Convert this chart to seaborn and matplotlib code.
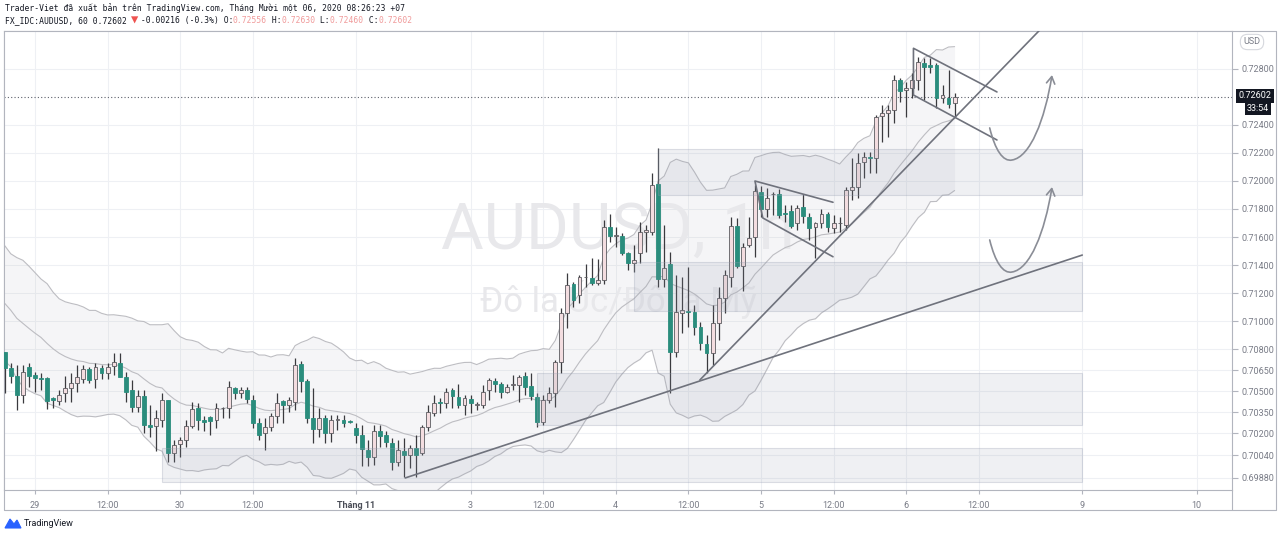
import numpy as np
import pandas as pd
import matplotlib
matplotlib.use("Agg")
import matplotlib.pyplot as plt
import seaborn as sns
from matplotlib.patches import Rectangle, FancyArrowPatch, Polygon
from matplotlib.path import Path

# ---- candles: AUDUSD 1h, 28 Oct 19:00 -> 6 Nov 08:00 (+07) ----
opens = [
    .70782, .70663, .70608, .70472, .70670, .70615, .70591, .70591, .70448, .70432,
    .70484, .70520, .70560, .70584, .70656, .70584, .70663, .70627, .70679, .70703,
    .70603, .70508, .70389, .70465, .70258, .70251, .70294, .70437, .70056, .70122,
    .70151, .70251, .70377, .70294, .70313, .70294, .70377, .70377, .70520, .70489,
    .70508, .70437, .70270, .70199, .70241, .70322, .70429, .70401, .70425, .70694,
    .70568, .70306, .70227, .70306, .70199, .70294, .70294, .70282, .70234, .70187,
    .70080, .70027, .70211, .70187, .70132, .69996, .70068, .70044, .70091, .70056,
    .70246, .70341, .70425, .70413, .70508, .70460, .70401, .70441, .70401, .70401,
    .70508, .70574, .70551, .70496, .70544, .70544, .70608, .70536, .70460, .70282,
    .70436, .70484, .70710, .71055, .71265, .71186, .71312, .71305, .71274, .71293,
    .71669, .71608, .71608, .71489, .71417, .71484, .71638, .71638, .71979, .71298,
    .71408, .70782, .71060, .71067, .71067, .70960, .70836, .70770, .70984, .71163,
    .71317, .71679, .71393, .71543, .71603, .71924, .71798, .71905, .71907, .71769,
    .71788, .71698, .71812, .71743, .71669, .71703, .71765, .71667, .71698, .71686,
    .71936, .71960, .72138, .72174, .72162, .72466, .72483, .72507, .72721, .72650,
    .72666, .72721, .72840, .72828, .72828, .72595, .72590, .72556]
highs = [
    .70782, .70698, .70686, .70686, .70703, .70639, .70627, .70603, .70460, .70508,
    .70608, .70627, .70686, .70686, .70675, .70698, .70686, .70698, .70770, .70775,
    .70639, .70579, .70508, .70508, .70401, .70365, .70484, .70437, .70151, .70175,
    .70294, .70425, .70413, .70318, .70318, .70413, .70389, .70568, .70532, .70532,
    .70532, .70472, .70306, .70306, .70341, .70484, .70437, .70460, .70734, .70717,
    .70584, .70520, .70377, .70330, .70330, .70330, .70330, .70294, .70270, .70258,
    .70151, .70258, .70258, .70211, .70163, .70151, .70163, .70115, .70187, .70258,
    .70401, .70472, .70448, .70520, .70520, .70551, .70472, .70472, .70425, .70544,
    .70591, .70591, .70567, .70551, .70615, .70615, .70639, .70627, .70484, .70472,
    .70532, .70722, .71091, .71341, .71281, .71329, .71408, .71448, .71441, .71722,
    .71765, .71674, .71627, .71496, .71543, .71710, .71686, .72060, .72233, .71686,
    .71496, .71329, .71317, .71389, .71115, .70996, .70901, .71115, .71246, .71365,
    .71746, .71734, .71555, .71746, .71972, .71965, .71948, .71924, .71941, .71829,
    .71829, .71829, .71907, .71769, .71710, .71798, .71781, .71757, .71745, .71960,
    .72162, .72197, .72205, .72205, .72471, .72543, .72543, .72757, .72733, .72709,
    .72769, .72888, .72881, .72876, .72840, .72685, .72792, .72630]
lows = [
    .70484, .70556, .70365, .70413, .70532, .70496, .70508, .70370, .70377, .70401,
    .70425, .70425, .70496, .70556, .70556, .70520, .70584, .70584, .70615, .70603,
    .70425, .70353, .70353, .70199, .70175, .70068, .70246, .69996, .69996, .70032,
    .70103, .70234, .70222, .70211, .70187, .70234, .70306, .70306, .70441, .70448,
    .70413, .70234, .70151, .70080, .70211, .70270, .70270, .70353, .70365, .70496,
    .70270, .70127, .70175, .70127, .70139, .70222, .70246, .70275, .70127, .69961,
    .69961, .69973, .70103, .70103, .69937, .69961, .69889, .69949, .69889, .70044,
    .70211, .70318, .70341, .70377, .70377, .70377, .70329, .70341, .70365, .70377,
    .70436, .70496, .70448, .70484, .70508, .70425, .70472, .70436, .70246, .70258,
    .70413, .70389, .70627, .70948, .71103, .71127, .71246, .71258, .71258, .71265,
    .71567, .71531, .71472, .71365, .71353, .71412, .71496, .71615, .71246, .71246,
    .70484, .70746, .70913, .70960, .70901, .70794, .70627, .70687, .70865, .71055,
    .71246, .71377, .71217, .71531, .71460, .71741, .71746, .71757, .71734, .71710,
    .71662, .71650, .71703, .71579, .71448, .71662, .71638, .71626, .71638, .71650,
    .71864, .71876, .72019, .72055, .72055, .72281, .72317, .72412, .72566, .72459,
    .72590, .72650, .72578, .72769, .72519, .72555, .72519, .72460]
closes = [
    .70663, .70608, .70472, .70639, .70608, .70591, .70589, .70432, .70437, .70472,
    .70520, .70560, .70598, .70656, .70579, .70675, .70627, .70675, .70710, .70603,
    .70496, .70389, .70465, .70258, .70246, .70306, .70437, .70056, .70115, .70151,
    .70251, .70370, .70294, .70282, .70287, .70377, .70379, .70532, .70489, .70508,
    .70441, .70270, .70187, .70241, .70322, .70413, .70401, .70437, .70686, .70568,
    .70306, .70227, .70306, .70199, .70294, .70296, .70275, .70280, .70187, .70084,
    .70027, .70211, .70180, .70139, .69996, .70080, .70044, .70091, .70044, .70246,
    .70353, .70413, .70413, .70496, .70465, .70401, .70448, .70417, .70403, .70496,
    .70579, .70551, .70496, .70532, .70546, .70603, .70532, .70465, .70282, .70436,
    .70484, .70710, .71055, .71258, .71151, .71317, .71314, .71274, .71293, .71669,
    .71608, .71610, .71489, .71417, .71436, .71638, .71650, .71972, .71298, .71377,
    .70782, .71067, .71079, .71065, .70960, .70841, .70770, .70984, .71163, .71329,
    .71679, .71393, .71531, .71596, .71931, .71798, .71877, .71907, .71757, .71767,
    .71679, .71805, .71750, .71662, .71698, .71765, .71669, .71698, .71700, .71936,
    .71960, .72126, .72174, .72162, .72459, .72483, .72507, .72721, .72643, .72666,
    .72721, .72852, .72816, .72816, .72590, .72614, .72547, .72602]

# Keltner channel settings + state read at the left edge
kc_length = 20
kc_mult = 2.25
kc_mid_start = 0.71175
kc_range_start = 0.00171

price_ticks = [0.72800, 0.72400, 0.72200, 0.72000, 0.71800, 0.71600, 0.71400, 0.71200,
               0.71000, 0.70800, 0.70650, 0.70500, 0.70350, 0.70200, 0.70040, 0.69880]
time_tick_bars = [5, 17, 29, 41, 58, 77, 89, 101, 113, 125, 137, 149, 161, 178, 197]
time_tick_labels = ["29", "12:00", "30", "12:00", "Tháng 11", "3", "12:00", "4", "12:00",
                    "5", "12:00", "6", "12:00", "9", "10"]

# drawings (bar index, price)
zone_start = [108, 104, 88, 26]
zone_end = [178, 178, 178, 178]
zone_top = [0.72229, 0.71421, 0.70629, 0.70093]
zone_bottom = [0.71900, 0.71071, 0.70257, 0.69850]

trend_bars = [(66.2, 178.1), (114.9, 174.4)]
trend_prices = [(0.69879, 0.71471), (0.70579, 0.73226)]

flag_bars = [[136.9, 124.0, 125.3, 136.9], [164.0, 150.2, 150.2, 164.0]]
flag_prices = [[0.71848, 0.72000, 0.71736, 0.71459], [0.72636, 0.72948, 0.72614, 0.72293]]

arrow_bars = [162.8, 163.7, 165.0, 166.5, 169.5, 171.9, 173.1]
arrow_prices = [0.72379, 0.72221, 0.72136, 0.72150, 0.72171, 0.72436, 0.72757]
arrow_shift = [0.0, -0.0080]

last_price = 0.72602
countdown = "33:54"

# ---- derived ----
df = pd.DataFrame({"open": opens, "high": highs, "low": lows, "close": closes})
df["bar"] = np.arange(len(df))
prev_close = df["close"].shift(1).fillna(df["open"])
tr = np.maximum(df["high"] - df["low"],
                np.maximum((df["high"] - prev_close).abs(), (df["low"] - prev_close).abs()))
alpha = 2 / (kc_length + 1)
mid, rng = [], []
m, r = kc_mid_start, kc_range_start
for c, t in zip(df["close"], tr):
    m += alpha * (c - m)
    r += alpha * (t - r)
    mid.append(m)
    rng.append(r)
df["mid"] = mid
df["upper"] = df["mid"] + kc_mult * np.array(rng)
df["lower"] = df["mid"] - kc_mult * np.array(rng)

UP_FILL = "#f3dde0"
UP_EDGE = "#5b5b60"
DOWN = "#2a8d7d"
AXC = "#b2b5be"
TXT = "#787b86"

sns.set_theme(style="white")
plt.rcParams["font.family"] = ["Roboto", "DejaVu Sans"]

fig = plt.figure(figsize=(12.8, 5.36), dpi=100)
bg = fig.add_axes([0, 0, 1, 1])
bg.set_xlim(0, 1280)
bg.set_ylim(536, 0)
bg.axis("off")
ax = fig.add_axes([4 / 1280, 46 / 536, 1228 / 1280, 459 / 536])
ax.set_xlim(-0.12, 202.85)
ax.set_ylim(0.697929, 0.730714)

# grid
for p in price_ticks:
    ax.axhline(p, color="#eef0f4", lw=0.8, zorder=0)
for b in time_tick_bars:
    ax.axvline(b, color="#eef0f4", lw=0.8, zorder=0)

# keltner channel fill
ax.fill_between(df["bar"], df["lower"], df["upper"], color=(0.55, 0.55, 0.6, 0.08), lw=0, zorder=1)

# watermark (over the channel fill, under everything else)
ax.text(0.5, 0.565, "AUDUSD, 1h", transform=ax.transAxes, ha="center", va="center",
        fontsize=47, color="#e8e8eb", zorder=1.5, family=["Roboto", "DejaVu Sans"])
ax.text(0.5, 0.415, "Đô la Úc/Đô la Mỹ", transform=ax.transAxes, ha="center", va="center",
        fontsize=25, color="#e8e8eb", zorder=1.5, family=["Roboto", "DejaVu Sans"])

for col in ["upper", "mid", "lower"]:
    sns.lineplot(data=df, x="bar", y=col, ax=ax, color="#bdbdc2", lw=0.8, zorder=2)

# last price line
ax.axhline(last_price, color="#5d606b", lw=0.8, ls=(0, (1, 2)), zorder=2.5)

# candles
up = df["close"] >= df["open"]
body_lo = np.minimum(df["open"], df["close"])
body_h = np.maximum((df["close"] - df["open"]).abs(), 0.00003)
ax.vlines(df["bar"], df["low"], df["high"], color="#3a3a3e", lw=0.9, zorder=3)
ax.bar(df["bar"][up], body_h[up], bottom=body_lo[up], width=0.64,
       color=UP_FILL, edgecolor=UP_EDGE, linewidth=0.6, zorder=4)
ax.bar(df["bar"][~up], body_h[~up], bottom=body_lo[~up], width=0.64,
       color=DOWN, edgecolor=DOWN, linewidth=0.6, zorder=4)

# zones
for s, e, t, b in zip(zone_start, zone_end, zone_top, zone_bottom):
    ax.add_patch(Rectangle((s, b), e - s, t - b, facecolor=(0.58, 0.61, 0.69, 0.15),
                           edgecolor=(0.58, 0.61, 0.69, 0.3), lw=0.8, zorder=5))

# trend lines and flags
for xs, ys in zip(trend_bars, trend_prices):
    ax.plot(xs, ys, color="#6f727c", lw=1.2, zorder=6, solid_capstyle="round")
for xs, ys in zip(flag_bars, flag_prices):
    ax.plot(xs, ys, color="#6f727c", lw=1.2, zorder=6)

# curved arrows
codes = [Path.MOVETO, Path.CURVE4, Path.CURVE4, Path.CURVE4, Path.CURVE4, Path.CURVE4, Path.CURVE4]
for sh in arrow_shift:
    verts = [(b, p + sh) for b, p in zip(arrow_bars, arrow_prices)]
    arr = FancyArrowPatch(path=Path(verts, codes), arrowstyle="->,head_length=5,head_width=3",
                          color="#8a8d96", lw=1.2, zorder=6, transform=ax.transData)
    ax.add_patch(arr)

# axes styling
for sp in ax.spines.values():
    sp.set_color(AXC)
    sp.set_linewidth(0.8)
ax.yaxis.tick_right()
ax.set_yticks(price_ticks)
ax.set_yticklabels([f"{p:.5f}" for p in price_ticks])
ax.tick_params(axis="y", length=4, width=0.8, color=AXC, pad=3, labelsize=6.5, labelcolor=TXT, right=True)
ax.set_xticks(time_tick_bars)
ax.set_xticklabels(time_tick_labels)
ax.tick_params(axis="x", length=3, width=0.8, color=AXC, pad=5, labelsize=6.5, labelcolor=TXT, bottom=True)
for lab in ax.get_xticklabels():
    if lab.get_text() == "Tháng 11":
        lab.set_fontweight("bold")
        lab.set_color("#4a4d57")
ax.set_xlabel("")
ax.set_ylabel("")

# outer frame
bg.plot([4, 1276, 1276, 4, 4], [31, 31, 510, 510, 31], color=AXC, lw=0.8)
bg.plot([1232, 1232], [490, 510], color=AXC, lw=0.8)

# price labels on axis
bg.text(1255, 96, f"{last_price:.5f}", ha="center", va="center", fontsize=6.5, color="white",
        bbox=dict(boxstyle="square,pad=0.25", fc="#131722", ec="none"))
bg.text(1258, 108.5, countdown, ha="center", va="center", fontsize=6.5, color="white",
        bbox=dict(boxstyle="square,pad=0.2", fc="#131722", ec="none"))
bg.text(1252, 42, "USD", ha="center", va="center", fontsize=6.5, color=TXT,
        bbox=dict(boxstyle="round,pad=0.35,rounding_size=0.8", fc="white", ec="#d6d8de", lw=0.8))

# header
mono = ["DejaVu Sans Mono", "DejaVu Sans"]
fs = 5.8
cw = fs * 100 / 72 * 0.602
bg.text(5, 8.5, "Trader-Viet đã xuất bản trên TradingView.com, Tháng Mười một 06, 2020 08:26:23 +07",
        fontsize=fs, family=mono, color="#131722", va="center")
pieces = [("FX_IDC:AUDUSD, 60 0.72602 ", "#131722"), ("▼", "#ef5350"), (" -0.00216 (-0.3%) O:", "#131722"),
          ("0.72556", "#f09a9a"), (" H:", "#131722"), ("0.72630", "#f09a9a"), (" L:", "#131722"),
          ("0.72460", "#f09a9a"), (" C:", "#131722"), ("0.72602", "#f09a9a")]
n = 0
for s, c in pieces:
    size = fs * 1.5 if s == "▼" else fs
    bg.text(5 + n * cw, 20.5, s, fontsize=size, family=mono, color=c, va="center")
    n += len(s)
bg.text(10, 42.5, "Đô la Úc/Đô la Mỹ, 1h, IDC", fontsize=fs, family=mono, color=TXT, va="center")
bg.text(10, 55.5, "KC (20, 2.25, close, true range)", fontsize=fs, family=mono, color=TXT, va="center")

# logo
bg.add_patch(Polygon([[5, 528], [10, 519], [14, 524], [17, 520], [21, 528]], closed=True,
                     fc="#2962ff", ec="#2962ff", lw=0.8))
bg.text(24, 523.5, "TradingView", fontsize=6.5, color="#131722", va="center")

fig.savefig("out.png", dpi=100)
